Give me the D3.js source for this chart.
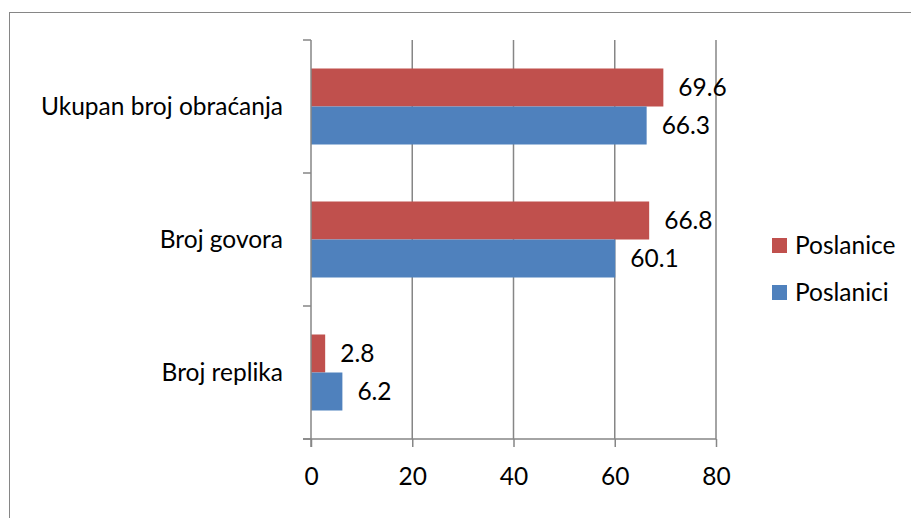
<!DOCTYPE html>
<html>
<head>
<meta charset="utf-8">
<script src="https://cdn.jsdelivr.net/npm/d3@7"></script>
<style>
  body { margin: 0; background: #fff; }
  text { font-family: Lato, "Noto Sans", sans-serif; fill: #000; }
</style>
</head>
<body>
<svg id="chart" width="911" height="518"></svg>
<script>
var categories = ["Ukupan broj obraćanja", "Broj govora", "Broj replika"];
var seriesNames = ["Poslanice", "Poslanici"];
var poslanice = [69.6, 66.8, 2.8];
var poslanici = [66.3, 60.1, 6.2];
var xTicks = [0, 20, 40, 60, 80];
var colors = ["#c0504d", "#4f81bd"];

var svg = d3.select("#chart");
var fontSize = "24.5px";

// outer chart border
svg.append("rect")
  .attr("x", 9.5).attr("y", 12.5)
  .attr("width", 920).attr("height", 520)
  .attr("fill", "none")
  .attr("stroke", "#868686")
  .attr("stroke-width", 1);

var plotLeft = 311, plotRight = 716, plotTop = 40, plotBottom = 439;

var x = d3.scaleLinear().domain([0, 80]).range([plotLeft, plotRight]);
var y = d3.scaleBand().domain(categories).range([plotTop, plotBottom]);
var inner = d3.scaleBand().domain(seriesNames)
  .range([0, y.bandwidth()]).paddingInner(0).paddingOuter(0.75);

// gridlines
svg.selectAll(".grid")
  .data(xTicks.slice(1))
  .enter()
    .append("line")
      .attr("x1", function(d) { return x(d); })
      .attr("x2", function(d) { return x(d); })
      .attr("y1", plotTop)
      .attr("y2", plotBottom)
      .attr("stroke", "#868686")
      .attr("stroke-width", 1.5);

var rows = categories.map(function(c, i) {
  return [{cat: c, s: seriesNames[0], v: poslanice[i], color: colors[0]},
          {cat: c, s: seriesNames[1], v: poslanici[i], color: colors[1]}];
});
var bars = [].concat.apply([], rows);

svg.selectAll(".bar")
  .data(bars)
  .enter()
    .append("rect")
      .attr("class", "bar")
      .attr("x", x(0))
      .attr("y", function(d) { return y(d.cat) + inner(d.s); })
      .attr("width", function(d) { return x(d.v) - x(0); })
      .attr("height", inner.bandwidth())
      .attr("fill", function(d) { return d.color; });

svg.selectAll(".val")
  .data(bars)
  .enter()
    .append("text")
      .attr("x", function(d) { return x(d.v) + 15; })
      .attr("y", function(d) { return y(d.cat) + inner(d.s) + inner.bandwidth() / 2; })
      .attr("dy", "0.35em")
      .style("font-size", fontSize)
      .text(function(d) { return d.v.toFixed(1); });

// x axis
var xAxis = svg.append("g")
  .attr("transform", "translate(0," + plotBottom + ")")
  .call(d3.axisBottom(x).tickValues(xTicks).tickSize(8).tickPadding(21));
xAxis.select(".domain").attr("stroke", "#868686").attr("stroke-width", 1.5)
  .attr("d", "M" + (plotLeft - 8) + ",0H" + plotRight);
xAxis.selectAll(".tick line").attr("stroke", "#868686").attr("stroke-width", 1.5);
xAxis.selectAll(".tick text").style("font-size", fontSize).attr("fill", "#000");

// y axis
var yEdges = categories.map(function(c) { return y(c); }).concat([plotBottom]);
svg.append("line")
  .attr("x1", plotLeft).attr("x2", plotLeft)
  .attr("y1", plotTop).attr("y2", plotBottom + 8)
  .attr("stroke", "#868686").attr("stroke-width", 1.5);
svg.selectAll(".ytick")
  .data(yEdges)
  .enter()
    .append("line")
      .attr("x1", plotLeft - 8).attr("x2", plotLeft)
      .attr("y1", function(d) { return d; })
      .attr("y2", function(d) { return d; })
      .attr("stroke", "#868686").attr("stroke-width", 1.5);

svg.selectAll(".cat")
  .data(categories)
  .enter()
    .append("text")
      .attr("x", 283)
      .attr("y", function(d) { return y(d) + y.bandwidth() / 2; })
      .attr("dy", "0.35em")
      .attr("text-anchor", "end")
      .style("font-size", fontSize)
      .text(function(d) { return d; });

// legend
var legend = svg.selectAll(".legend")
  .data(seriesNames)
  .enter()
    .append("g")
      .attr("transform", function(d, i) { return "translate(772," + (238 + i * 47) + ")"; });
legend.append("rect")
  .attr("width", 15).attr("height", 15)
  .attr("fill", function(d, i) { return colors[i]; });
legend.append("text")
  .attr("x", 23).attr("y", 7.5)
  .attr("dy", "0.35em")
  .style("font-size", fontSize)
  .text(function(d) { return d; });
</script>
</body>
</html>
